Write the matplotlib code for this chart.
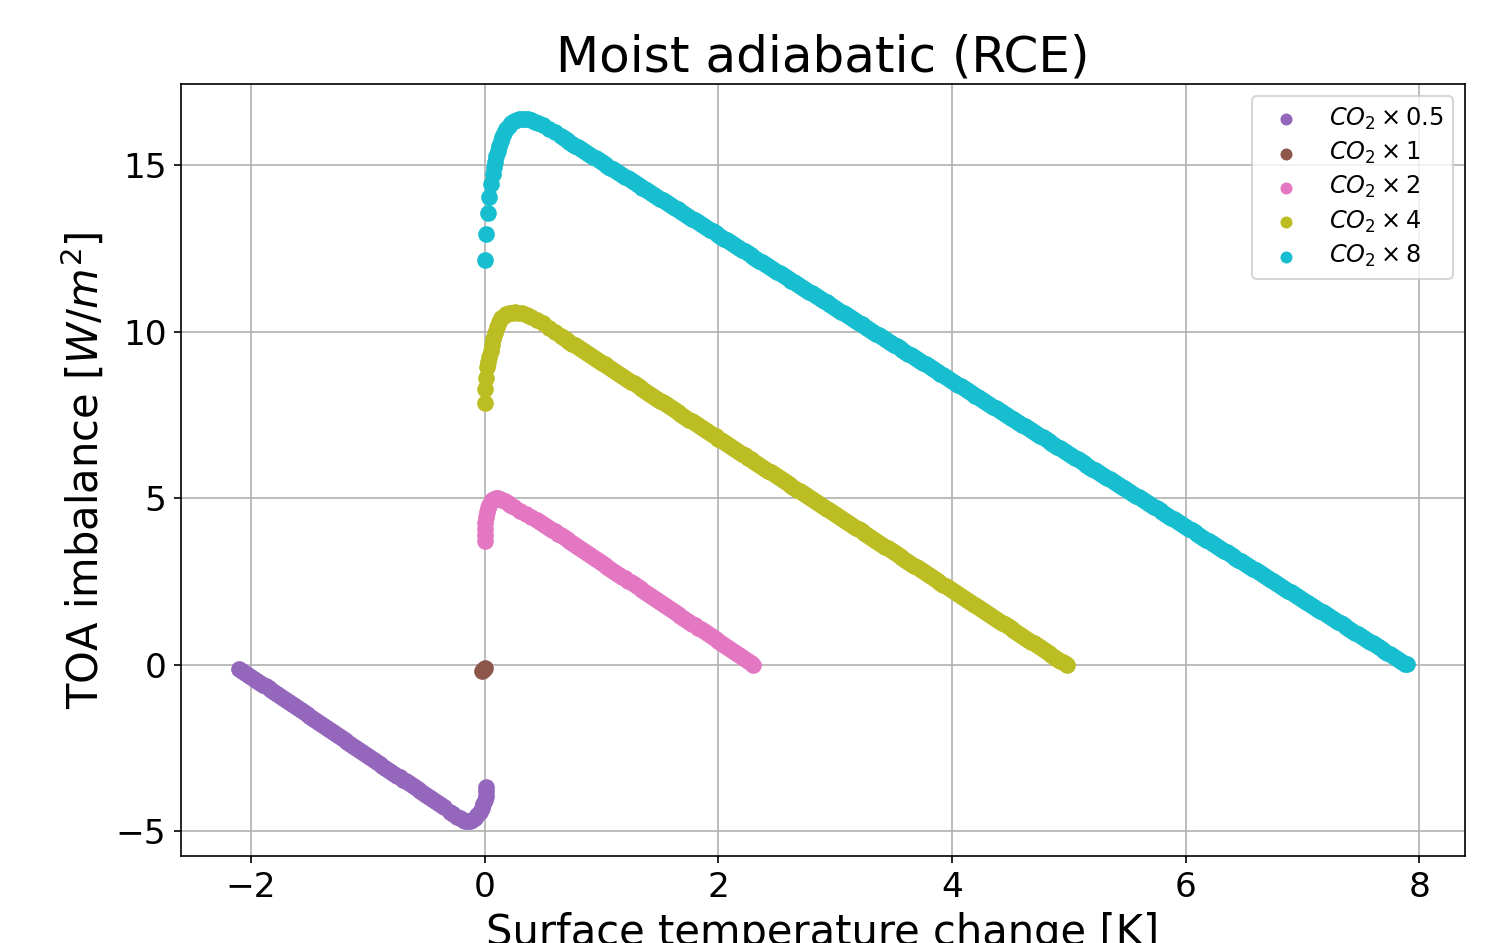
import matplotlib
matplotlib.use("Agg")
import matplotlib.pyplot as plt

# ---------------- data ----------------
labels = [r"$CO_2 \times 0.5$", r"$CO_2 \times 1$", r"$CO_2 \times 2$",
          r"$CO_2 \times 4$", r"$CO_2 \times 8$"]
colors = ["#9467bd", "#8c564b", "#e377c2", "#bcbd22", "#17becf"]

half_T = [0.014, 0.012, 0.007, -0.001, -0.012, -0.026, -0.043, -0.062, -0.083, -0.105,
          -0.125, -0.145, -0.165, -0.19, -0.215, -0.24, -0.27, -0.30,
          -0.35, -0.40, -0.45, -0.50, -0.55, -0.60, -0.65, -0.70, -0.75, -0.80,
          -0.85, -0.90, -0.95, -1.00, -1.05, -1.10, -1.15, -1.20, -1.25, -1.30,
          -1.35, -1.40, -1.45, -1.50, -1.55, -1.60, -1.65, -1.70, -1.75, -1.80,
          -1.85, -1.90, -1.95, -2.00, -2.05, -2.10]
half_N = [-3.66, -3.80, -3.94, -4.07, -4.19, -4.31, -4.42, -4.52, -4.60, -4.65,
          -4.68, -4.69, -4.68, -4.65, -4.61, -4.56, -4.49, -4.41,
          -4.28, -4.16, -4.04, -3.92, -3.80, -3.68, -3.56, -3.45, -3.33, -3.21,
          -3.09, -2.97, -2.85, -2.73, -2.61, -2.50, -2.38, -2.26, -2.14, -2.02,
          -1.90, -1.78, -1.66, -1.55, -1.43, -1.31, -1.19, -1.07, -0.95, -0.83,
          -0.71, -0.60, -0.48, -0.36, -0.24, -0.12]
half_T2 = [-0.375, -0.425, -0.475, -0.525, -0.575, -0.625, -0.675, -0.725, -0.775,
           -0.825, -0.875, -0.925, -0.975, -1.025, -1.075, -1.125, -1.175, -1.225,
           -1.275, -1.325, -1.375, -1.425, -1.475, -1.525, -1.575, -1.625, -1.675,
           -1.725, -1.775, -1.825, -1.875, -1.925, -1.975, -2.025, -2.075]
half_N2 = [-4.218, -4.099, -3.980, -3.862, -3.743, -3.624, -3.505, -3.386, -3.268,
           -3.149, -3.030, -2.911, -2.792, -2.674, -2.555, -2.436, -2.317, -2.198,
           -2.080, -1.961, -1.842, -1.723, -1.604, -1.486, -1.367, -1.248, -1.129,
           -1.010, -0.892, -0.773, -0.654, -0.535, -0.416, -0.298, -0.179]

one_T = [0.000, -0.008, -0.016, -0.022]
one_N = [-0.10, -0.13, -0.16, -0.18]

two_T = [0.000, 0.001, 0.003, 0.006, 0.011, 0.018, 0.027, 0.038, 0.050, 0.064,
         0.080, 0.097, 0.115, 0.133, 0.152, 0.172, 0.195, 0.22, 0.25, 0.30,
         0.35, 0.40, 0.45, 0.50, 0.55, 0.60, 0.65, 0.70, 0.75, 0.80, 0.85,
         0.90, 0.95, 1.00, 1.05, 1.10, 1.15, 1.20, 1.25, 1.30, 1.35, 1.40,
         1.45, 1.50, 1.55, 1.60, 1.65, 1.70, 1.75, 1.80, 1.85, 1.90, 1.95,
         2.00, 2.05, 2.10, 2.15, 2.20, 2.25, 2.30]
two_N = [3.71, 3.90, 4.08, 4.25, 4.42, 4.57, 4.70, 4.80, 4.88, 4.94,
         4.97, 4.99, 4.99, 4.97, 4.94, 4.90, 4.85, 4.79, 4.72, 4.62,
         4.52, 4.44, 4.35, 4.23, 4.11, 4.00, 3.88, 3.76, 3.64, 3.53, 3.41,
         3.29, 3.17, 3.06, 2.94, 2.82, 2.70, 2.59, 2.47, 2.35, 2.23, 2.12,
         2.00, 1.88, 1.76, 1.65, 1.53, 1.41, 1.29, 1.18, 1.06, 0.94, 0.82,
         0.71, 0.59, 0.47, 0.35, 0.24, 0.12, 0.00]
two_T2 = [0.475, 0.525, 0.575, 0.625, 0.675, 0.725, 0.775, 0.825, 0.875, 0.925, 0.975,
          1.025, 1.075, 1.125, 1.175, 1.225, 1.275, 1.325, 1.375, 1.425, 1.475,
          1.525, 1.575, 1.625, 1.675, 1.725, 1.775, 1.825, 1.875, 1.925, 1.975,
          2.025, 2.075, 2.125, 2.175, 2.225, 2.275]
two_N2 = [4.289, 4.171, 4.054, 3.936, 3.819, 3.701, 3.584, 3.466, 3.349, 3.231, 3.114,
          2.996, 2.879, 2.761, 2.644, 2.526, 2.409, 2.291, 2.174, 2.056, 1.939,
          1.821, 1.704, 1.586, 1.469, 1.351, 1.234, 1.116, 0.999, 0.881, 0.764,
          0.646, 0.529, 0.411, 0.294, 0.176, 0.059]

four_T = [0.000, 0.003, 0.014, 0.023, 0.032, 0.040, 0.050, 0.060, 0.072, 0.086,
          0.102, 0.120, 0.140, 0.162, 0.186, 0.21, 0.235, 0.26, 0.285, 0.32,
          0.36, 0.40, 0.45, 0.50, 0.55, 0.60,
          0.65, 0.70, 0.75, 0.80, 0.85, 0.90, 0.95,
          1.00, 1.05, 1.10, 1.15, 1.20, 1.25, 1.30, 1.35, 1.40, 1.45,
          1.50, 1.55, 1.60, 1.65, 1.70, 1.75, 1.80, 1.85, 1.90, 1.95,
          2.00, 2.05, 2.10, 2.15, 2.20, 2.25, 2.30, 2.35, 2.40, 2.45,
          2.50, 2.55, 2.60, 2.65, 2.70, 2.75, 2.80, 2.85, 2.90, 2.95,
          3.00, 3.05, 3.10, 3.15, 3.20, 3.25, 3.30, 3.35, 3.40, 3.45,
          3.50, 3.55, 3.60, 3.65, 3.70, 3.75, 3.80, 3.85, 3.90, 3.95,
          4.00, 4.05, 4.10, 4.15, 4.20, 4.25, 4.30, 4.35, 4.40, 4.45,
          4.50, 4.55, 4.60, 4.65, 4.70, 4.75, 4.80, 4.85, 4.90, 4.95, 4.98]
four_N = [7.85, 8.28, 8.61, 8.93, 9.10, 9.25, 9.42, 9.60, 9.78, 9.96,
          10.13, 10.28, 10.40, 10.48, 10.53, 10.56, 10.57, 10.58, 10.57, 10.55,
          10.51, 10.45, 10.36, 10.25, 10.12, 10.00,
          9.87, 9.76, 9.64, 9.53, 9.42, 9.30, 9.19,
          9.07, 8.96, 8.85, 8.73, 8.62, 8.50, 8.39, 8.28, 8.16, 8.05,
          7.93, 7.82, 7.71, 7.59, 7.48, 7.36, 7.25, 7.14, 7.02, 6.91,
          6.79, 6.68, 6.57, 6.45, 6.34, 6.22, 6.11, 6.00, 5.88, 5.77,
          5.65, 5.54, 5.43, 5.31, 5.20, 5.08, 4.97, 4.86, 4.74, 4.63,
          4.51, 4.40, 4.29, 4.17, 4.06, 3.94, 3.83, 3.72, 3.60, 3.49,
          3.37, 3.26, 3.15, 3.03, 2.92, 2.80, 2.69, 2.58, 2.46, 2.35,
          2.23, 2.12, 2.01, 1.89, 1.78, 1.66, 1.55, 1.44, 1.32, 1.21,
          1.09, 0.98, 0.87, 0.75, 0.64, 0.52, 0.41, 0.30, 0.18, 0.07, 0.00]
four_T2 = [0.675, 0.725, 0.775, 0.825, 0.875, 0.925, 0.975,
           1.025, 1.075, 1.125, 1.175, 1.225, 1.275, 1.325, 1.375, 1.425, 1.475,
           1.525, 1.575, 1.625, 1.675, 1.725, 1.775, 1.825, 1.875, 1.925, 1.975,
           2.025, 2.075, 2.125, 2.175, 2.225, 2.275, 2.325, 2.375, 2.425, 2.475,
           2.525, 2.575, 2.625, 2.675, 2.725, 2.775, 2.825, 2.875, 2.925, 2.975,
           3.025, 3.075, 3.125, 3.175, 3.225, 3.275, 3.325, 3.375, 3.425, 3.475,
           3.525, 3.575, 3.625, 3.675, 3.725, 3.775, 3.825, 3.875, 3.925, 3.975,
           4.025, 4.075, 4.125, 4.175, 4.225, 4.275, 4.325, 4.375, 4.425, 4.475,
           4.525, 4.575, 4.625, 4.675, 4.725, 4.775, 4.825, 4.875, 4.925, 4.975]
four_N2 = [9.815, 9.701, 9.587, 9.473, 9.359, 9.245, 9.131,
           9.017, 8.903, 8.789, 8.675, 8.561, 8.447, 8.333, 8.219, 8.105, 7.991,
           7.877, 7.763, 7.649, 7.535, 7.421, 7.307, 7.193, 7.079, 6.965, 6.851,
           6.737, 6.623, 6.509, 6.395, 6.281, 6.167, 6.053, 5.939, 5.825, 5.711,
           5.597, 5.483, 5.369, 5.255, 5.141, 5.027, 4.913, 4.799, 4.685, 4.571,
           4.457, 4.343, 4.229, 4.115, 4.001, 3.887, 3.773, 3.659, 3.545, 3.431,
           3.317, 3.203, 3.089, 2.975, 2.861, 2.747, 2.633, 2.519, 2.405, 2.291,
           2.177, 2.063, 1.949, 1.835, 1.721, 1.607, 1.493, 1.379, 1.265, 1.151,
           1.037, 0.923, 0.809, 0.695, 0.581, 0.467, 0.353, 0.239, 0.125, 0.011]

eight_T = [0.000, 0.011, 0.026, 0.040, 0.054, 0.068, 0.077, 0.087, 0.098, 0.110,
           0.123, 0.137, 0.152, 0.168, 0.186, 0.205, 0.226, 0.248, 0.272, 0.297,
           0.322, 0.347, 0.372, 0.40, 0.43, 0.46, 0.50, 0.55, 0.60,
           0.65, 0.70, 0.75, 0.80, 0.85, 0.90, 0.95,
           1.00, 1.05, 1.10, 1.15, 1.20, 1.25, 1.30, 1.35, 1.40, 1.45,
           1.50, 1.55, 1.60, 1.65, 1.70, 1.75, 1.80, 1.85, 1.90, 1.95,
           2.00, 2.05, 2.10, 2.15, 2.20, 2.25, 2.30, 2.35, 2.40, 2.45,
           2.50, 2.55, 2.60, 2.65, 2.70, 2.75, 2.80, 2.85, 2.90, 2.95,
           3.00, 3.05, 3.10, 3.15, 3.20, 3.25, 3.30, 3.35, 3.40, 3.45,
           3.50, 3.55, 3.60, 3.65, 3.70, 3.75, 3.80, 3.85, 3.90, 3.95,
           4.00, 4.05, 4.10, 4.15, 4.20, 4.25, 4.30, 4.35, 4.40, 4.45,
           4.50, 4.55, 4.60, 4.65, 4.70, 4.75, 4.80, 4.85, 4.90, 4.95,
           5.00, 5.05, 5.10, 5.15, 5.20, 5.25, 5.30, 5.35, 5.40, 5.45,
           5.50, 5.55, 5.60, 5.65, 5.70, 5.75, 5.80, 5.85, 5.90, 5.95,
           6.00, 6.05, 6.10, 6.15, 6.20, 6.25, 6.30, 6.35, 6.40, 6.45,
           6.50, 6.55, 6.60, 6.65, 6.70, 6.75, 6.80, 6.85, 6.90, 6.95,
           7.00, 7.05, 7.10, 7.15, 7.20, 7.25, 7.30, 7.35, 7.40, 7.45,
           7.50, 7.55, 7.60, 7.65, 7.70, 7.75, 7.80, 7.85, 7.89]
eight_N = [12.16, 12.94, 13.56, 14.05, 14.42, 14.74, 14.93, 15.10, 15.27, 15.43,
           15.58, 15.72, 15.85, 15.97, 16.08, 16.17, 16.25, 16.31, 16.35, 16.37,
           16.38, 16.38, 16.37, 16.34, 16.30, 16.25, 16.19, 16.09, 15.98,
           15.86, 15.75, 15.64, 15.53, 15.42, 15.31, 15.20,
           15.09, 14.98, 14.87, 14.76, 14.65, 14.54, 14.43, 14.32, 14.21, 14.10,
           13.99, 13.89, 13.78, 13.67, 13.56, 13.45, 13.34, 13.23, 13.12, 13.01,
           12.90, 12.79, 12.68, 12.57, 12.46, 12.35, 12.24, 12.13, 12.02, 11.91,
           11.80, 11.70, 11.59, 11.48, 11.37, 11.26, 11.15, 11.04, 10.93, 10.82,
           10.71, 10.60, 10.49, 10.38, 10.27, 10.16, 10.05, 9.94, 9.83, 9.72,
           9.61, 9.51, 9.40, 9.29, 9.18, 9.07, 8.96, 8.85, 8.74, 8.63,
           8.52, 8.41, 8.30, 8.19, 8.08, 7.97, 7.86, 7.75, 7.64, 7.53,
           7.42, 7.32, 7.21, 7.10, 6.99, 6.88, 6.77, 6.66, 6.55, 6.44,
           6.33, 6.22, 6.11, 6.00, 5.89, 5.78, 5.67, 5.56, 5.45, 5.34,
           5.23, 5.13, 5.02, 4.91, 4.80, 4.69, 4.58, 4.47, 4.36, 4.25,
           4.14, 4.03, 3.92, 3.81, 3.70, 3.59, 3.48, 3.37, 3.26, 3.15,
           3.04, 2.94, 2.83, 2.72, 2.61, 2.50, 2.39, 2.28, 2.17, 2.06,
           1.95, 1.84, 1.73, 1.62, 1.51, 1.40, 1.29, 1.18, 1.07, 0.96,
           0.85, 0.75, 0.64, 0.53, 0.42, 0.31, 0.20, 0.09, 0.02]
eight_T2 = [0.675, 0.725, 0.775, 0.825, 0.875, 0.925, 0.975,
            1.025, 1.075, 1.125, 1.175, 1.225, 1.275, 1.325, 1.375, 1.425, 1.475,
            1.525, 1.575, 1.625, 1.675, 1.725, 1.775, 1.825, 1.875, 1.925, 1.975,
            2.025, 2.075, 2.125, 2.175, 2.225, 2.275, 2.325, 2.375, 2.425, 2.475,
            2.525, 2.575, 2.625, 2.675, 2.725, 2.775, 2.825, 2.875, 2.925, 2.975,
            3.025, 3.075, 3.125, 3.175, 3.225, 3.275, 3.325, 3.375, 3.425, 3.475,
            3.525, 3.575, 3.625, 3.675, 3.725, 3.775, 3.825, 3.875, 3.925, 3.975,
            4.025, 4.075, 4.125, 4.175, 4.225, 4.275, 4.325, 4.375, 4.425, 4.475,
            4.525, 4.575, 4.625, 4.675, 4.725, 4.775, 4.825, 4.875, 4.925, 4.975,
            5.025, 5.075, 5.125, 5.175, 5.225, 5.275, 5.325, 5.375, 5.425, 5.475,
            5.525, 5.575, 5.625, 5.675, 5.725, 5.775, 5.825, 5.875, 5.925, 5.975,
            6.025, 6.075, 6.125, 6.175, 6.225, 6.275, 6.325, 6.375, 6.425, 6.475,
            6.525, 6.575, 6.625, 6.675, 6.725, 6.775, 6.825, 6.875, 6.925, 6.975,
            7.025, 7.075, 7.125, 7.175, 7.225, 7.275, 7.325, 7.375, 7.425, 7.475,
            7.525, 7.575, 7.625, 7.675, 7.725, 7.775, 7.825, 7.875]
eight_N2 = [15.802, 15.692, 15.583, 15.473, 15.364, 15.254, 15.145,
            15.035, 14.926, 14.816, 14.707, 14.597, 14.488, 14.378, 14.269, 14.159, 14.050,
            13.940, 13.831, 13.721, 13.612, 13.502, 13.393, 13.283, 13.174, 13.064, 12.955,
            12.845, 12.736, 12.626, 12.517, 12.407, 12.298, 12.188, 12.079, 11.969, 11.860,
            11.750, 11.641, 11.531, 11.422, 11.312, 11.203, 11.093, 10.984, 10.874, 10.765,
            10.655, 10.546, 10.436, 10.327, 10.217, 10.108, 9.998, 9.889, 9.779, 9.670,
            9.560, 9.451, 9.341, 9.232, 9.122, 9.013, 8.903, 8.794, 8.684, 8.575,
            8.465, 8.356, 8.246, 8.137, 8.027, 7.918, 7.808, 7.699, 7.589, 7.480,
            7.370, 7.261, 7.151, 7.042, 6.932, 6.823, 6.713, 6.604, 6.494, 6.385,
            6.275, 6.166, 6.056, 5.947, 5.837, 5.728, 5.618, 5.509, 5.399, 5.290,
            5.180, 5.071, 4.961, 4.852, 4.742, 4.633, 4.523, 4.414, 4.304, 4.195,
            4.085, 3.976, 3.866, 3.757, 3.647, 3.538, 3.428, 3.319, 3.209, 3.100,
            2.990, 2.881, 2.771, 2.662, 2.552, 2.443, 2.333, 2.224, 2.114, 2.005,
            1.895, 1.786, 1.676, 1.567, 1.457, 1.348, 1.238, 1.129, 1.019, 0.910,
            0.800, 0.691, 0.581, 0.472, 0.362, 0.253, 0.143, 0.034]

series_T = [half_T + half_T2, one_T, two_T + two_T2, four_T + four_T2, eight_T + eight_T2]
series_N = [half_N + half_N2, one_N, two_N + two_N2, four_N + four_N2, eight_N + eight_N2]

title = "Moist adiabatic (RCE)"
xlabel = "Surface temperature change [K]"
ylabel = r"TOA imbalance [$W/m^2$]"
xticks = [-2, 0, 2, 4, 6, 8]
yticks = [-5, 0, 5, 10, 15]

# ---------------- figure ----------------
fig = plt.figure(figsize=(1503 / 150, 943 / 150), dpi=150)
ax = fig.add_axes([181 / 1503, 1 - 856 / 943, (1465 - 181) / 1503, (856 - 84) / 943])

for T, N, c, lab in zip(series_T, series_N, colors, labels):
    ax.scatter(T, N, s=64, color=c, linewidths=0, label=lab)

ax.set_axisbelow(True)
ax.grid(True, color="#b0b0b0", linewidth=0.8)
ax.set_xticks(xticks)
ax.set_yticks(yticks)
ax.tick_params(labelsize=16.5)
ax.set_title(title, fontsize=24)
ax.set_xlabel(xlabel, fontsize=20)
ax.set_ylabel(ylabel, fontsize=20)
ax.legend(loc="upper right", fontsize=11.5, markerscale=0.72, labelspacing=0.34)

fig.savefig("out.png", dpi=150)
